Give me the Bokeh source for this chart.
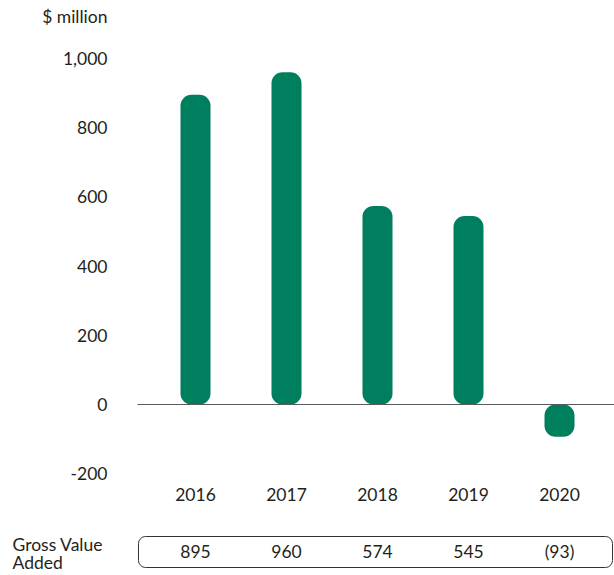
from bokeh.plotting import figure
from bokeh.models import ColumnDataSource, Range1d
from bokeh.core.properties import value
from bokeh.embed import file_html
from bokeh.resources import INLINE

years = ["2016", "2017", "2018", "2019", "2020"]
gva = [895, 960, 574, 545, -93]
gva_labels = ["895", "960", "574", "545", "(93)"]
yticks = [1000, 800, 600, 400, 200, 0, -200]
ytick_labels = ["1,000", "800", "600", "400", "200", "0", "-200"]
unit_label = "$ million"
row_label = ["Gross Value", "Added"]

W, H = 614, 575
PX = 0.346          # pixels per $ million
STEP = 91.0         # pixels between bar centres
X0, Y0 = 195.0, 404.0   # screen position of first bar centre / zero line
OFF = 0.0

def xd(sx):
    return (sx - X0) / STEP

def yd(sy):
    return (Y0 - sy) / PX

FONT = value("Lato")
FS = "17.5px"
TXT = "#231f20"
GREEN = "#007f5f"

p = figure(width=W, height=H, output_backend="svg", toolbar_location=None,
           x_range=Range1d(xd(OFF), xd(OFF + W)), y_range=Range1d(yd(OFF + H), yd(OFF)),
           min_border=0, outline_line_color=None)
p.axis.visible = False
p.grid.visible = False
p.background_fill_color = "white"

xs = list(range(len(years)))
src = ColumnDataSource(dict(x=xs, top=gva, bottom=[0] * len(gva), yr=years, lab=gva_labels))

p.vbar(x="x", top="top", bottom="bottom", width=30 / STEP, source=src,
       fill_color=GREEN, line_color=None, border_radius=11)

# zero line
p.segment(x0=[xd(137)], y0=[0], x1=[xd(OFF + W)], y1=[0], line_color="#5a5a5a", line_width=1.2)

# y tick labels
p.text(x=[xd(107)] * len(yticks), y=yticks, text=ytick_labels, text_align="right",
       text_baseline="middle", text_font=FONT, text_font_size=FS, text_color=TXT)
p.text(x=[xd(107)], y=[yd(16)], text=[unit_label], text_align="right",
       text_baseline="middle", text_font=FONT, text_font_size=FS, text_color=TXT)

# year labels
p.text(x="x", y=yd(494), text="yr", source=src, text_align="center",
       text_baseline="middle", text_font=FONT, text_font_size=FS, text_color=TXT)

# table box
p.quad(left=[xd(138)], right=[xd(612)], top=[yd(536)], bottom=[yd(567)],
       fill_color=None, line_color="#333333", line_width=1, border_radius=7)
p.text(x="x", y=yd(551), text="lab", source=src, text_align="center",
       text_baseline="middle", text_font=FONT, text_font_size=FS, text_color=TXT)

p.text(x=[xd(12), xd(12)], y=[yd(544), yd(562)], text=row_label, text_align="left",
       text_baseline="middle", text_font=FONT, text_font_size=FS, text_color=TXT)

open("out.html", "w").write(file_html(p, INLINE))
